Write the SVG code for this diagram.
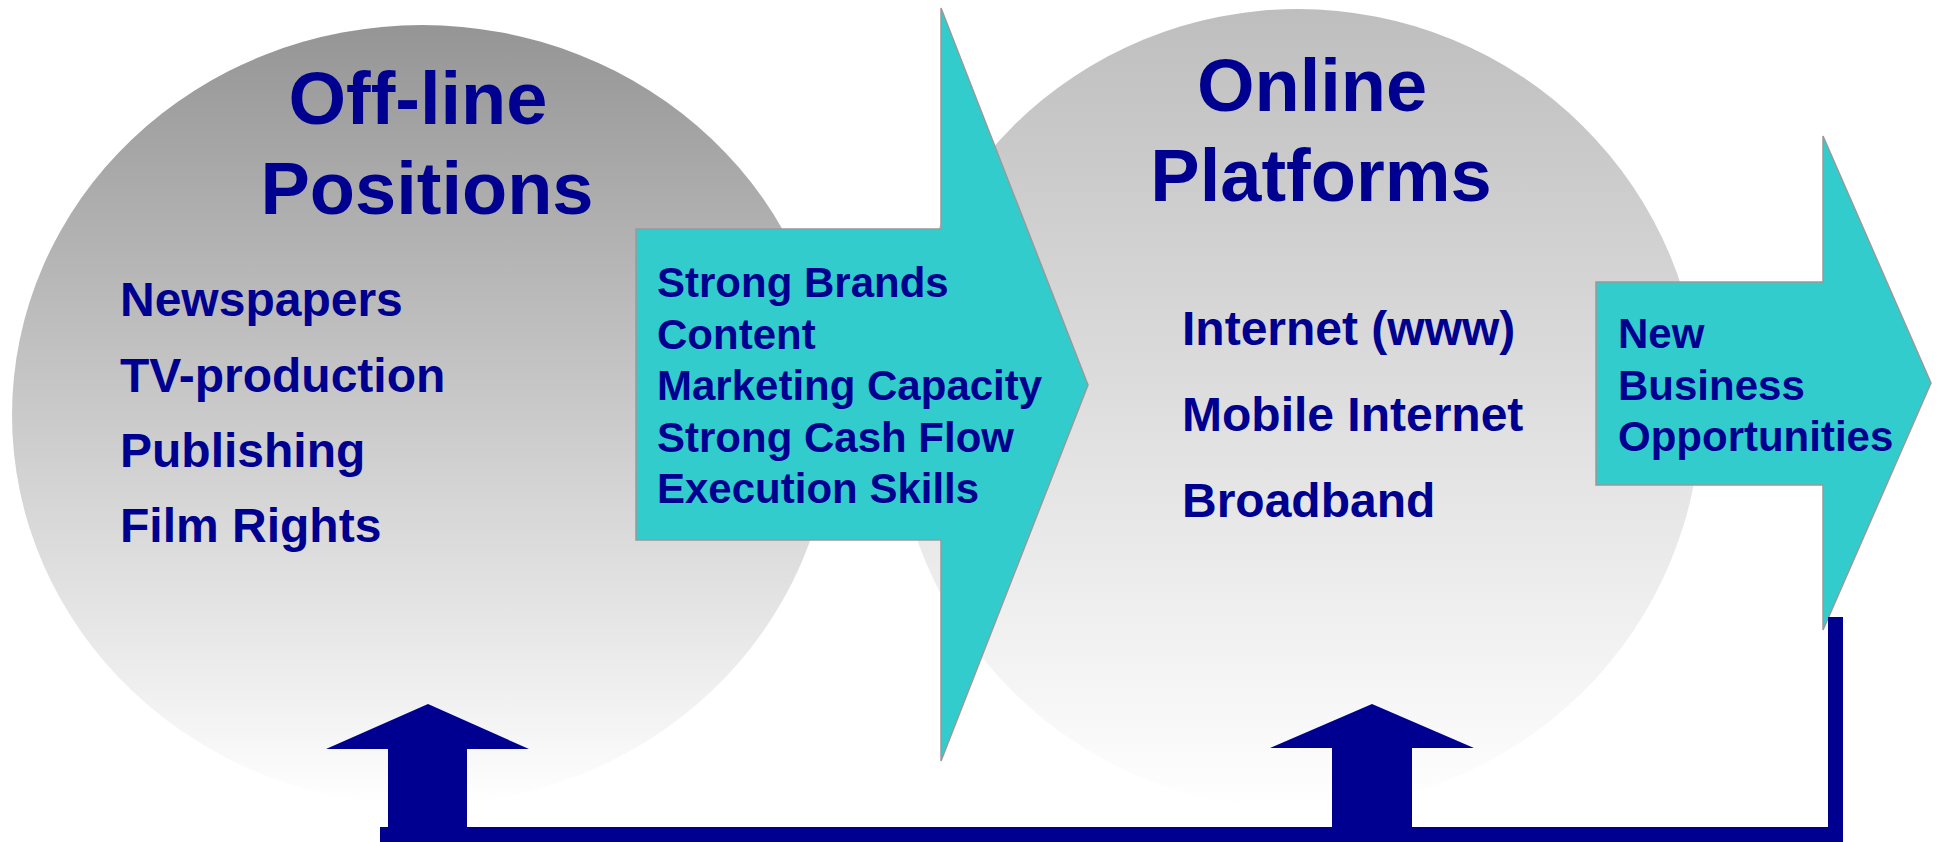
<svg xmlns="http://www.w3.org/2000/svg" width="1941" height="842" viewBox="0 0 1941 842">
  <defs>
    <linearGradient id="gradOffline" x1="0" y1="0" x2="0" y2="1">
      <stop offset="0" stop-color="#959595"/>
      <stop offset="1" stop-color="#ffffff"/>
    </linearGradient>
    <linearGradient id="gradOnline" x1="0" y1="0" x2="0" y2="1">
      <stop offset="0" stop-color="#bebebe"/>
      <stop offset="1" stop-color="#ffffff"/>
    </linearGradient>
  </defs>
  <style>
    text { font-family: "Liberation Sans", Arial, sans-serif; font-weight: bold; fill: #000090; }
    .title { font-size: 74px; text-anchor: middle; }
    .item { font-size: 48px; }
    .flow { font-size: 42px; }
    .teal { fill: #33cccc; stroke: #999999; stroke-width: 1.5; stroke-linejoin: miter; }
    .navy { fill: #000090; }
  </style>

  <rect width="1941" height="842" fill="#ffffff"/>

  <!-- Off-line positions -->
  <g id="node-offline">
    <ellipse cx="422" cy="415" rx="410" ry="390" fill="url(#gradOffline)"/>
    <text class="title" x="418" y="124">Off-line</text>
    <text class="title" x="427" y="214">Positions</text>
    <text class="item" x="120" y="316">Newspapers</text>
    <text class="item" x="120" y="392">TV-production</text>
    <text class="item" x="120" y="467">Publishing</text>
    <text class="item" x="120" y="542">Film Rights</text>
  </g>

  <!-- Online platforms -->
  <g id="node-online">
    <ellipse cx="1298" cy="409" rx="403" ry="400" fill="url(#gradOnline)"/>
    <text class="title" x="1312" y="111">Online</text>
    <text class="title" x="1321" y="201">Platforms</text>
    <text class="item" x="1182" y="345">Internet (www)</text>
    <text class="item" x="1182" y="431">Mobile Internet</text>
    <text class="item" x="1182" y="517">Broadband</text>
  </g>

  <!-- Strengths carried into the online platforms -->
  <g id="node-strengths">
    <polygon class="teal" points="636,229 941,229 941,8 1088,385 941,761 941,540 636,540"/>
    <text class="flow" x="657" y="297">Strong Brands</text>
    <text class="flow" x="657" y="348.5">Content</text>
    <text class="flow" x="657" y="400">Marketing Capacity</text>
    <text class="flow" x="657" y="451.5">Strong Cash Flow</text>
    <text class="flow" x="657" y="503">Execution Skills</text>
  </g>

  <!-- Resulting opportunities -->
  <g id="node-opportunities">
    <polygon class="teal" points="1596,282 1823,282 1823,136 1931,383 1823,630 1823,485 1596,485"/>
    <text class="flow" x="1618" y="348">New</text>
    <text class="flow" x="1618" y="399.5">Business</text>
    <text class="flow" x="1618" y="451">Opportunities</text>
  </g>

  <!-- Feedback loop back to both circles -->
  <g id="connectors">
    <rect class="navy" x="1828" y="617" width="15" height="225"/>
    <rect class="navy" x="380" y="827" width="1463" height="15"/>
    <polygon class="navy" points="428,704 529,749 467,749 467,828 388,828 388,749 326,749"/>
    <polygon class="navy" points="1372,704 1474,748 1412,748 1412,828 1332,828 1332,748 1270,748"/>
  </g>
</svg>
